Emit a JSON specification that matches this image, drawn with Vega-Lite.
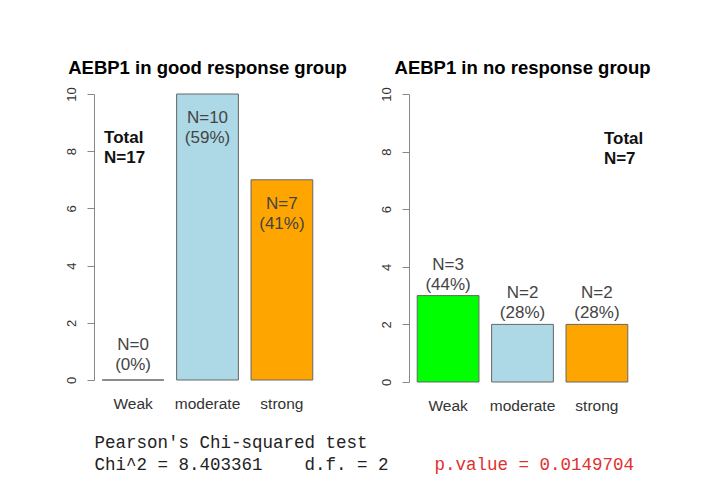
{
  "$schema": "https://vega.github.io/schema/vega-lite/v6.json",
  "background": "white",
  "padding": {"left": 65, "top": 59, "right": 5, "bottom": 5},
  "datasets": {
    "counts": [
      {"group": "good", "level": "Weak", "n": 0, "pct": 0},
      {"group": "good", "level": "moderate", "n": 10, "pct": 59},
      {"group": "good", "level": "strong", "n": 7, "pct": 41},
      {"group": "no", "level": "Weak", "n": 3, "pct": 44},
      {"group": "no", "level": "moderate", "n": 2, "pct": 28},
      {"group": "no", "level": "strong", "n": 2, "pct": 28}
    ]
  },
  "data": {"name": "counts"},
  "spacing": 94,
  "bounds": "flush",
  "hconcat": [
    {
      "width": 221,
      "height": 286,
      "title": {"text": "AEBP1 in good response group"},
      "transform": [
        {"filter": "datum.group == 'good'"},
        {"joinaggregate": [{"op": "sum", "field": "n", "as": "total"}]},
        {"calculate": "'N=' + datum.n + '\\n(' + datum.pct + '%)'", "as": "label"},
        {"calculate": "'Total\\nN=' + datum.total", "as": "tlab"}
      ],
      "encoding": {
        "x": {
          "field": "level", "type": "nominal", "sort": ["Weak", "moderate", "strong"],
          "scale": {"paddingInner": 0.17, "paddingOuter": 0.07},
          "axis": {
            "labelAngle": 0, "domain": false, "ticks": false, "tickSize": 0, "labelPadding": 16,
            "labelFontSize": 15.5, "labelColor": "#333",
            "title": ["Pearson's Chi-squared test", "Chi^2 = 8.403361\u00a0\u00a0\u00a0\u00a0d.f. = 2"],
            "titleFont": "Liberation Mono", "titleFontSize": 17.5, "titleFontWeight": "normal", "titleColor": "#222",
            "titleAnchor": "start", "titleAlign": "left", "titleX": -3, "titleY": 67,
            "titleBaseline": "alphabetic", "titleLineHeight": 22
          }
        },
        "y": {
          "field": "n", "type": "quantitative", "scale": {"domain": [0, 10], "nice": false},
          "axis": {
            "values": [0, 2, 4, 6, 8, 10], "labelAngle": -90, "labelAlign": "center", "labelBaseline": "bottom",
            "offset": 3, "grid": false, "title": null, "tickSize": 7, "domainColor": "#888", "tickColor": "#888",
            "labelFontSize": 13, "labelPadding": 9, "labelColor": "#333"
          }
        }
      },
      "layer": [
        {
          "mark": {"type": "bar", "stroke": "#666", "strokeWidth": 1},
          "encoding": {
            "color": {"field": "level", "type": "nominal",
              "scale": {"domain": ["Weak", "moderate", "strong"], "range": ["#00FF00", "#ADD8E6", "#FFA500"]},
              "legend": null}
          }
        },
        {
          "transform": [{"filter": "datum.n >= 5"}],
          "mark": {"type": "text", "baseline": "top", "dy": 16, "lineBreak": "\n", "fontSize": 17, "color": "#444", "lineHeight": 20},
          "encoding": {"text": {"field": "label"}}
        },
        {
          "transform": [{"filter": "datum.n < 5"}],
          "mark": {"type": "text", "baseline": "bottom", "dy": -26, "lineBreak": "\n", "fontSize": 17, "color": "#444", "lineHeight": 20},
          "encoding": {"text": {"field": "label"}}
        },
        {
          "transform": [{"filter": "datum.level == 'Weak'"}],
          "mark": {"type": "text", "align": "left", "baseline": "middle", "dx": -29, "fontWeight": "bold", "fontSize": 17, "color": "#111", "lineBreak": "\n", "lineHeight": 20},
          "encoding": {"y": {"datum": 8.45}, "text": {"field": "tlab"}}
        }
      ]
    },
    {
      "width": 221,
      "height": 288,
      "title": {"text": "AEBP1 in no response group"},
      "transform": [
        {"filter": "datum.group == 'no'"},
        {"joinaggregate": [{"op": "sum", "field": "n", "as": "total"}]},
        {"calculate": "'N=' + datum.n + '\\n(' + datum.pct + '%)'", "as": "label"},
        {"calculate": "'Total\\nN=' + datum.total", "as": "tlab"}
      ],
      "encoding": {
        "x": {
          "field": "level", "type": "nominal", "sort": ["Weak", "moderate", "strong"],
          "scale": {"paddingInner": 0.17, "paddingOuter": 0.07},
          "axis": {
            "labelAngle": 0, "domain": false, "ticks": false, "tickSize": 0, "labelPadding": 16,
            "labelFontSize": 15.5, "labelColor": "#333",
            "title": "p.value = 0.0149704",
            "titleFont": "Liberation Mono", "titleFontSize": 17.5, "titleFontWeight": "normal", "titleColor": "#e0302f",
            "titleAnchor": "start", "titleAlign": "left", "titleX": 22, "titleY": 87,
            "titleBaseline": "alphabetic"
          }
        },
        "y": {
          "field": "n", "type": "quantitative", "scale": {"domain": [0, 10], "nice": false},
          "axis": {
            "values": [0, 2, 4, 6, 8, 10], "labelAngle": -90, "labelAlign": "center", "labelBaseline": "bottom",
            "offset": 3, "grid": false, "title": null, "tickSize": 7, "domainColor": "#888", "tickColor": "#888",
            "labelFontSize": 13, "labelPadding": 9, "labelColor": "#333"
          }
        }
      },
      "layer": [
        {
          "mark": {"type": "bar", "stroke": "#666", "strokeWidth": 1},
          "encoding": {
            "color": {"field": "level", "type": "nominal",
              "scale": {"domain": ["Weak", "moderate", "strong"], "range": ["#00FF00", "#ADD8E6", "#FFA500"]},
              "legend": null}
          }
        },
        {
          "transform": [{"filter": "datum.n >= 5"}],
          "mark": {"type": "text", "baseline": "top", "dy": 16, "lineBreak": "\n", "fontSize": 17, "color": "#444", "lineHeight": 20},
          "encoding": {"text": {"field": "label"}}
        },
        {
          "transform": [{"filter": "datum.n < 5"}],
          "mark": {"type": "text", "baseline": "bottom", "dy": -22, "lineBreak": "\n", "fontSize": 17, "color": "#444", "lineHeight": 20},
          "encoding": {"text": {"field": "label"}}
        },
        {
          "transform": [{"filter": "datum.level == 'strong'"}],
          "mark": {"type": "text", "align": "left", "baseline": "middle", "dx": 7, "fontWeight": "bold", "fontSize": 17, "color": "#111", "lineBreak": "\n", "lineHeight": 20},
          "encoding": {"y": {"datum": 8.45}, "text": {"field": "tlab"}}
        }
      ]
    }
  ],
  "resolve": {"scale": {"color": "shared"}},
  "config": {
    "view": {"stroke": null},
    "font": "Liberation Sans",
    "title": {"fontSize": 18.5, "font": "Liberation Sans", "fontWeight": "bold", "color": "#000", "baseline": "bottom", "offset": 9, "anchor": "middle"}
  }
}
